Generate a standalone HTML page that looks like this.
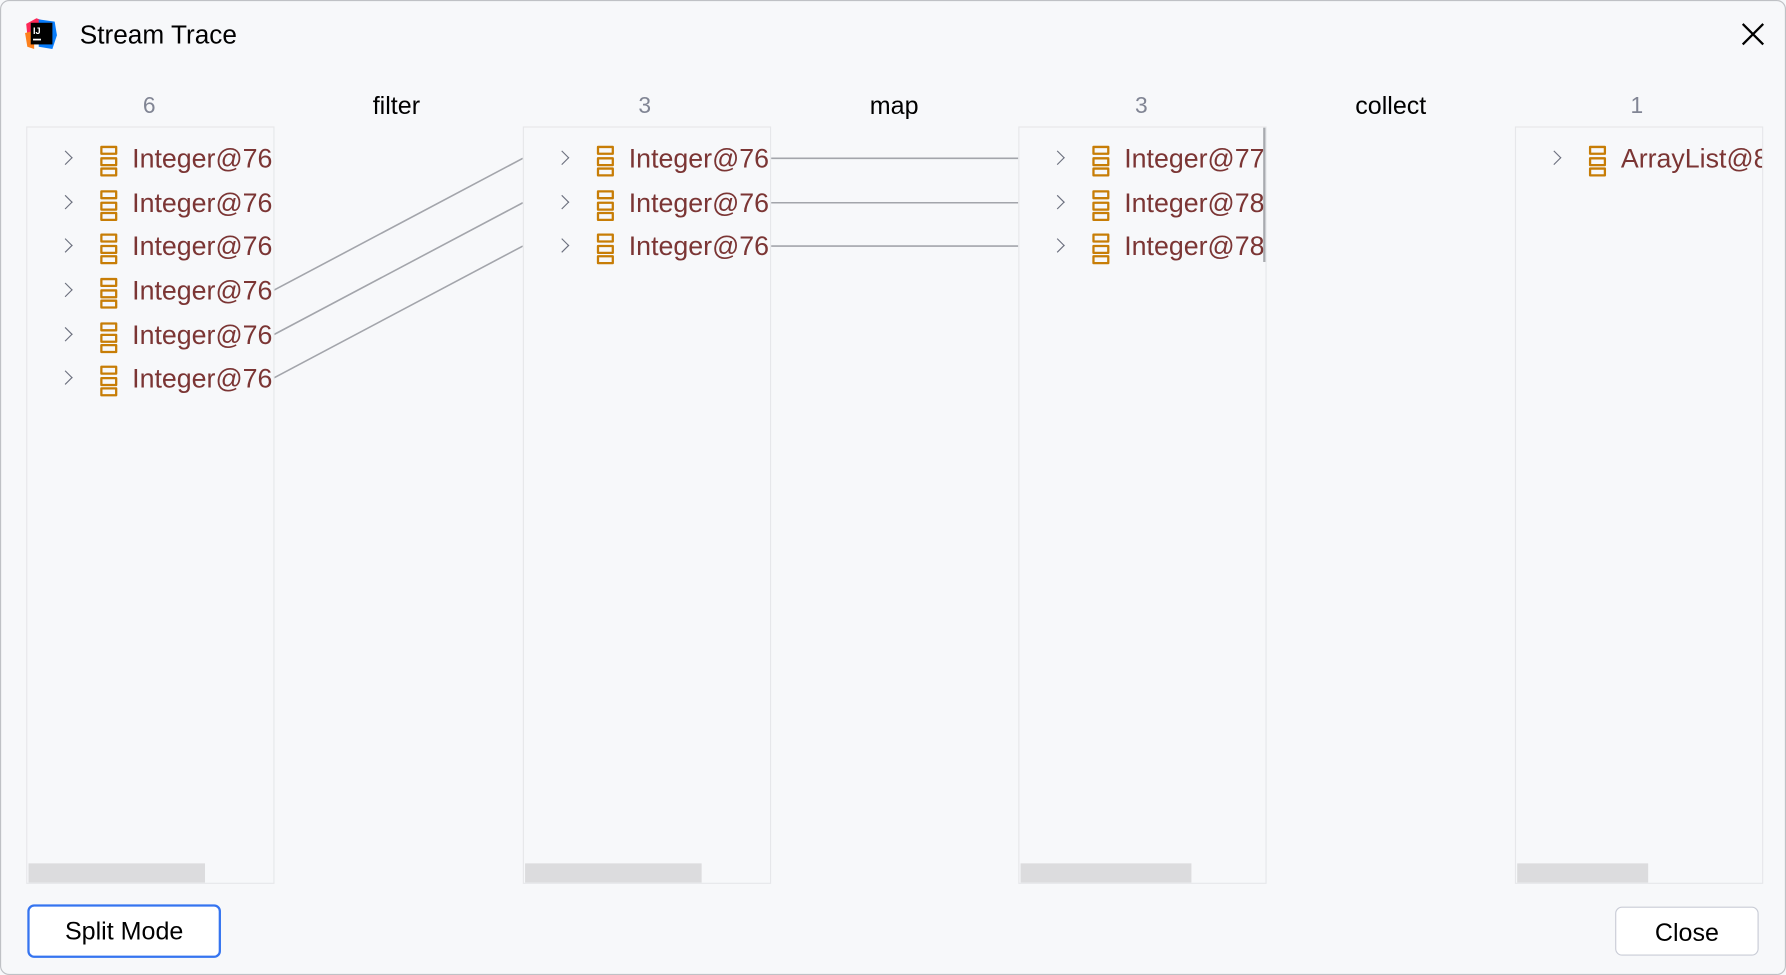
<!DOCTYPE html>
<html><head><meta charset="utf-8"><style>
html,body{margin:0;padding:0;width:1786px;height:975px;overflow:hidden;background:#f7f8fa;}
#s{position:absolute;left:0;top:0;width:1568px;height:856px;transform:scale(1.13903,1.13902);transform-origin:0 0;font-family:"Liberation Sans",sans-serif;background:#f7f8fa;}
.win{position:absolute;left:0;top:0;width:1566px;height:854px;border:1px solid #bfc1c5;border-radius:8px;}
.t{position:absolute;white-space:nowrap;}
.cnt{color:#818594;font-size:20px;top:82px;width:60px;text-align:center;}
.op{color:#000;font-size:22px;top:80px;width:120px;text-align:center;}
.panel{position:absolute;top:111px;width:216px;height:663px;border:1px solid #e6e7ea;background:#f7f8fa;overflow:hidden;}
.sb{position:absolute;bottom:0;left:1px;height:17px;background:#dcdcde;}
.row{position:absolute;left:0;height:30px;white-space:nowrap;}
.chev{position:absolute;left:29px;top:10px;width:8px;height:8px;border-right:1.6px solid #6c707e;border-top:1.6px solid #6c707e;transform:rotate(45deg);}
.ic{position:absolute;left:64px;top:4px;width:15px;}
.ic i{display:block;height:4px;border:2px solid #c77d06;border-radius:1px;margin-bottom:1.5px;}
.lab{position:absolute;left:92px;top:2px;font-size:23.5px;color:#7b3534;}
.btn{position:absolute;background:#fff;border-radius:6px;font-size:22px;text-align:center;color:#000;box-sizing:border-box;}
</style></head><body><div id="s">
<div class="win"></div>
<svg style="position:absolute;left:20px;top:15px" width="32" height="30" viewBox="0 0 32 30">
<polygon points="3,6 12,1 20,4 16,14 4,16" fill="#fe2857"/>
<polygon points="14,2 28,4 30,16 26,28 14,26" fill="#087cfa"/>
<polygon points="2,14 10,12 10,28 4,26" fill="#fc801d"/>
<rect x="7" y="5" width="19" height="19" fill="#000"/>
<text x="9" y="15" font-size="8" fill="#fff" font-family="Liberation Sans" font-weight="bold">IJ</text>
<rect x="9" y="19" width="7" height="1.5" fill="#fff"/>
</svg>
<div class="t" style="left:70px;top:17px;font-size:23px;color:#000;">Stream Trace</div>
<svg style="position:absolute;left:1528px;top:19px" width="22" height="22"><path d="M2 2L20 20M20 2L2 20" stroke="#000" stroke-width="2"/></svg>

<div class="t cnt" style="left:101px">6</div>
<div class="t op" style="left:288px">filter</div>
<div class="t cnt" style="left:536px">3</div>
<div class="t op" style="left:725px">map</div>
<div class="t cnt" style="left:972px">3</div>
<div class="t op" style="left:1161px">collect</div>
<div class="t cnt" style="left:1407px">1</div>

<svg style="position:absolute;left:0;top:0" width="1568" height="856">
<g stroke="#a3a5ab" stroke-width="1.4">
<line x1="240" y1="255" x2="459" y2="139"/>
<line x1="240" y1="294" x2="459" y2="178"/>
<line x1="240" y1="332" x2="459" y2="216"/>
<line x1="675" y1="139" x2="894" y2="139"/>
<line x1="675" y1="178" x2="894" y2="178"/>
<line x1="675" y1="216" x2="894" y2="216"/>
</g>
</svg>

<div class="panel" style="left:23px">
<div class="row" style="top:12px"><div class="chev"></div><div class="ic"><i></i><i></i><i></i></div><div class="lab">Integer@76</div></div>
<div class="row" style="top:51px"><div class="chev"></div><div class="ic"><i></i><i></i><i></i></div><div class="lab">Integer@76</div></div>
<div class="row" style="top:89px"><div class="chev"></div><div class="ic"><i></i><i></i><i></i></div><div class="lab">Integer@76</div></div>
<div class="row" style="top:128px"><div class="chev"></div><div class="ic"><i></i><i></i><i></i></div><div class="lab">Integer@76</div></div>
<div class="row" style="top:167px"><div class="chev"></div><div class="ic"><i></i><i></i><i></i></div><div class="lab">Integer@76</div></div>
<div class="row" style="top:205px"><div class="chev"></div><div class="ic"><i></i><i></i><i></i></div><div class="lab">Integer@76</div></div>
<div class="sb" style="width:155px"></div>
</div>
<div class="panel" style="left:459px">
<div class="row" style="top:12px"><div class="chev"></div><div class="ic"><i></i><i></i><i></i></div><div class="lab">Integer@76</div></div>
<div class="row" style="top:51px"><div class="chev"></div><div class="ic"><i></i><i></i><i></i></div><div class="lab">Integer@76</div></div>
<div class="row" style="top:89px"><div class="chev"></div><div class="ic"><i></i><i></i><i></i></div><div class="lab">Integer@76</div></div>
<div class="sb" style="width:155px"></div>
</div>
<div class="panel" style="left:894px">
<div class="row" style="top:12px"><div class="chev"></div><div class="ic"><i></i><i></i><i></i></div><div class="lab">Integer@77</div></div>
<div class="row" style="top:51px"><div class="chev"></div><div class="ic"><i></i><i></i><i></i></div><div class="lab">Integer@78</div></div>
<div class="row" style="top:89px"><div class="chev"></div><div class="ic"><i></i><i></i><i></i></div><div class="lab">Integer@78</div></div>
<div style="position:absolute;right:0;top:0;width:2px;height:118px;background:#a8aaaf"></div>
<div class="sb" style="width:150px"></div>
</div>
<div class="panel" style="left:1330px">
<div class="row" style="top:12px"><div class="chev"></div><div class="ic"><i></i><i></i><i></i></div><div class="lab">ArrayList@8</div></div>
<div class="sb" style="width:115px"></div>
</div>

<div class="btn" style="left:24px;top:794px;width:170px;height:47px;border:2.5px solid #3574f0;line-height:44px;">Split Mode</div>
<div class="btn" style="left:1418px;top:796px;width:126px;height:43px;border:1px solid #c9ccd6;line-height:43px;">Close</div>
</div></body></html>
